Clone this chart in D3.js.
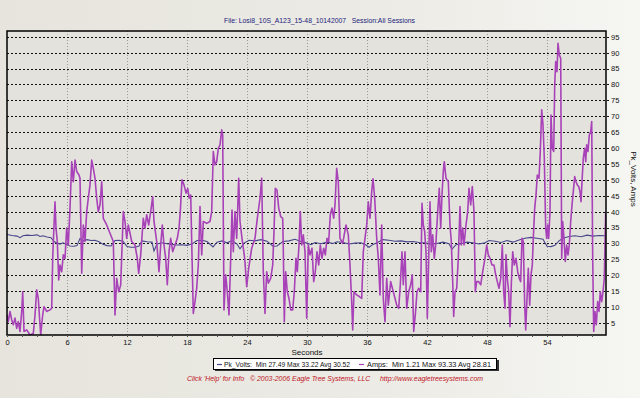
<!DOCTYPE html>
<html>
<head>
<meta charset="utf-8">
<script src="https://cdn.jsdelivr.net/npm/d3@7"></script>
<style>
  body{ margin: 0; padding: 0; overflow: hidden; }
  svg{ display: block; font-family: 'Liberation Sans', Arial, sans-serif; }
</style>
</head>
<body>
<div id="chart"></div>
<script>

const amps_t = [
  0, 0.13, 0.3, 0.47, 0.63, 0.8, 0.97, 1.13, 1.3, 1.47, 1.57, 1.7, 1.97, 2.3, 2.63, 2.8, 2.97, 3.13, 3.37, 3.57,
  3.7, 3.97, 4.3, 4.47, 4.57, 4.7, 4.8, 4.9, 5.03, 5.17, 5.3, 5.47, 5.63, 5.8, 5.97, 6.13, 6.3, 6.47, 6.63, 6.8,
  6.97, 7.2, 7.3, 7.47, 7.63, 7.8, 7.97, 8.13, 8.3, 8.47, 8.63, 8.8, 8.97, 9.13, 9.3, 9.47, 9.63, 9.97, 10.3, 10.63,
  10.8, 10.97, 11.17, 11.37, 11.63, 11.8, 11.97, 12.13, 12.47, 12.8, 13.03, 13.17, 13.37, 13.63, 13.8, 13.97, 14.17, 14.37, 14.57, 14.7,
  14.97, 15.2, 15.37, 15.53, 15.7, 15.87, 16.03, 16.2, 16.37, 16.57, 16.8, 17.03, 17.2, 17.33, 17.5, 17.7, 17.9, 18.07, 18.23, 18.37,
  18.5, 18.63, 18.8, 18.97, 19.13, 19.3, 19.47, 19.63, 19.97, 20.3, 20.47, 20.63, 20.8, 20.97, 21.13, 21.3, 21.47, 21.57, 21.7, 21.87,
  22.03, 22.2, 22.37, 22.5, 22.63, 22.8, 22.97, 23.17, 23.3, 23.5, 23.77, 23.97, 24.17, 24.47, 24.8, 25.03, 25.3, 25.47, 25.63, 25.8,
  25.97, 26.13, 26.37, 26.57, 26.7, 26.83, 27.0, 27.17, 27.37, 27.57, 27.63, 27.73, 27.87, 28.03, 28.2, 28.37, 28.57, 28.73, 28.9, 29.03,
  29.2, 29.33, 29.47, 29.63, 29.8, 29.97, 30.13, 30.3, 30.5, 30.67, 30.83, 31.0, 31.17, 31.33, 31.5, 31.67, 31.83, 32.0, 32.17, 32.33,
  32.5, 32.67, 32.8, 32.97, 33.13, 33.3, 33.57, 33.9, 34.13, 34.3, 34.47, 34.57, 34.7, 34.97, 35.23, 35.47, 35.63, 35.8, 35.97, 36.13,
  36.3, 36.47, 36.6, 36.77, 36.97, 37.13, 37.3, 37.47, 37.63, 37.8, 37.97, 38.13, 38.37, 38.63, 38.97, 39.17, 39.33, 39.5, 39.63, 39.8,
  39.97, 40.17, 40.37, 40.53, 40.67, 40.83, 41.0, 41.17, 41.37, 41.5, 41.63, 41.77, 41.9, 42.03, 42.17, 42.3, 42.43, 42.57, 42.73, 42.9,
  43.07, 43.23, 43.37, 43.5, 43.63, 43.73, 43.9, 44.13, 44.3, 44.43, 44.57, 44.67, 44.8, 44.97, 45.13, 45.3, 45.43, 45.57, 45.7, 45.9,
  46.07, 46.2, 46.37, 46.53, 46.7, 46.83, 46.97, 47.17, 47.37, 47.57, 47.8, 47.97, 48.13, 48.3, 48.5, 48.7, 48.87, 49.03, 49.2, 49.37,
  49.53, 49.67, 49.8, 49.9, 50.03, 50.17, 50.3, 50.43, 50.57, 50.73, 50.9, 51.07, 51.23, 51.37, 51.5, 51.63, 51.77, 51.87, 52.0, 52.13,
  52.27, 52.4, 52.53, 52.63, 52.77, 52.9, 53.03, 53.2, 53.33, 53.47, 53.6, 53.73, 53.87, 53.97, 54.07, 54.17, 54.3, 54.4, 54.53, 54.67,
  54.77, 54.87, 55.0, 55.1, 55.23, 55.37, 55.47, 55.57, 55.7, 55.83, 55.97, 56.1, 56.23, 56.37, 56.5, 56.63, 56.77, 56.9, 57.03, 57.17,
  57.3, 57.4, 57.5, 57.63, 57.77, 57.87, 57.97, 58.1, 58.23, 58.37, 58.47, 58.57, 58.67, 58.8, 58.93, 59.07, 59.2, 59.33, 59.47, 59.6,
  59.73, 59.87
];
// Amps read at those seconds.
const amps_v = [
  7.5, 5.4, 8.6, 6, 4.4, 6.5, 3.3, 5.4, 2.3, 8.6, 14.8, 2.3, 2.8, 1.2, 1.7, 7.5, 15.4, 12.7, 1.2, 7.5,
  10.1, 8.6, 9.1, 9.6, 25.3, 35.8, 43.1, 34.8, 30.6, 18.5, 23.2, 21.1, 26.4, 25.3, 34.8, 29.5, 41.1, 55.7, 49.4, 56.2,
  52.6, 51.5, 50.5, 20.6, 35.8, 30.6, 40, 44.2, 48.4, 56.2, 53.6, 50.5, 44.2, 40, 42.1, 49.4, 37.9, 35.8, 33.2, 30.6,
  7.5, 19, 14.8, 16.9, 40, 36.9, 31.6, 35.8, 30.6, 29.5, 25.3, 20.6, 26.4, 37.9, 34.8, 39, 35.8, 40, 44.7, 36.9,
  30.6, 21.1, 29.5, 35.8, 29.5, 25.3, 17, 27.4, 31.6, 27.4, 29.5, 31.6, 34.8, 40, 50, 48.4, 45.8, 47.3, 44.2, 45.2,
  26.4, 8, 11.7, 15.9, 23.2, 41.6, 26.4, 36.9, 36.3, 36.9, 40, 58.9, 54.7, 55.7, 59.9, 61, 65.7, 64.1, 9.1, 20.1,
  14.8, 7.5, 25.3, 40.5, 27.4, 40, 31.6, 50.5, 36.9, 31.6, 25.3, 16.4, 22.2, 28.5, 31.6, 37.9, 44.2, 50.5, 21.1, 8,
  21.1, 17.5, 19, 23.2, 33.7, 47.3, 46.8, 41.1, 38.4, 37.9, 28.5, 5.4, 21.1, 14.8, 12.7, 9.1, 9.1, 14.8, 25.3, 21.1,
  29.5, 40, 29.5, 32.7, 27.4, 6.5, 29.5, 26.4, 28.5, 18, 21.1, 27.4, 23.2, 29.5, 25.3, 28.5, 26.4, 31.6, 30.6, 39,
  41.1, 37.9, 42.1, 53.6, 49.4, 31.6, 30, 35.8, 32.7, 23.2, 11.7, 2.8, 14.8, 13.8, 13.3, 12.7, 27.4, 31.6, 35.8, 43.1,
  37.9, 46.3, 50.3, 44.2, 31.6, 25.3, 13.8, 35.8, 12.7, 5.4, 19, 10.6, 18, 14.8, 10.6, 9.6, 17, 27.4, 17, 27.4,
  9.6, 14.8, 17, 20.1, 2.3, 7.5, 14.8, 15.9, 14.8, 42.6, 35.8, 33.7, 27.4, 6.5, 25.3, 43.1, 27.4, 32.7, 25.3, 30.6,
  40, 47.3, 34.8, 45.2, 52.6, 55.7, 50.5, 49.4, 35.8, 30.6, 18, 7, 14.8, 15.9, 25.3, 41.6, 29.5, 34.8, 29.5, 35.8,
  40, 47.3, 42.1, 47.9, 40, 14.8, 18, 18, 17, 21.1, 25.3, 29.5, 26.4, 25.3, 23.2, 23.2, 20.1, 18, 15.9, 19,
  29.5, 14.8, 9.6, 26.4, 19, 14.8, 3.8, 17, 27.4, 23.2, 25.3, 21.1, 19, 18, 31.6, 30.6, 10.6, 2.8, 12.7, 22.2,
  10.6, 20.1, 23.2, 31.6, 41.1, 45.2, 51.5, 50.5, 58.9, 72, 67.3, 56.8, 34.8, 31.6, 35.8, 31.6, 40, 70.4, 59.9, 58.9,
  79.8, 87.2, 84, 92.9, 89.3, 88.2, 25.3, 36.9, 31.6, 24.3, 29.5, 26.4, 29.5, 36.9, 42.1, 46.3, 51, 49.4, 48.4, 47.9,
  46.3, 43.1, 49.4, 56.8, 59.9, 55.7, 61, 58.9, 64.1, 65.1, 68.3, 25.3, 2.3, 8.6, 4.4, 11.7, 8.6, 14.8, 11.7, 14.8,
  19, 40
];

const volts_t = [
  0, 0.5, 1.0, 1.3, 1.6, 2.0, 2.5, 3.0, 3.3, 3.6, 4.0, 4.4, 4.7, 5.0, 5.3, 5.6, 6.0, 6.3, 6.7, 7.0,
  7.3, 7.6, 8.0, 8.4, 8.8, 9.2, 9.6, 10.0, 10.4, 10.8, 11.2, 11.6, 12.0, 12.4, 12.8, 13.2, 13.5, 14.0, 14.5, 14.7,
  15.0, 15.5, 16.0, 16.5, 17.0, 17.5, 18.0, 18.5, 19.0, 19.5, 20.0, 20.6, 21.0, 21.5, 22.0, 22.5, 23.0, 23.3, 23.7, 24.2,
  24.8, 25.4, 26.0, 26.6, 27.0, 27.6, 28.2, 28.8, 29.4, 30.0, 30.4, 30.8, 31.4, 32.0, 32.6, 33.0, 33.6, 34.2, 34.8, 35.4,
  35.9, 36.2, 36.6, 37.0, 37.6, 38.2, 38.8, 39.4, 40.0, 40.6, 41.2, 41.8, 42.4, 43.0, 43.6, 44.2, 44.5, 44.9, 45.5, 46.0,
  46.6, 47.2, 47.8, 48.2, 48.8, 49.4, 50.0, 50.6, 51.2, 51.8, 52.4, 53.0, 53.6, 54.0, 54.4, 54.8, 55.2, 55.6, 56.2, 56.8,
  57.4, 58.0, 58.6, 59.2, 59.87
];
// Pk_Volts read at those seconds.
const volts_v = [
  32.8, 32.5, 32.3, 31.8, 32.4, 32.6, 32.5, 32.7, 32.2, 32.4, 32.0, 31.8, 30.6, 30.1, 29.8, 30.2, 29.6, 29.2, 29.1, 29.3,
  31.5, 30.8, 31.2, 30.9, 31.0, 30.5, 29.7, 29.3, 29.2, 30.9, 31.0, 30.7, 29.0, 28.8, 28.8, 29.2, 30.8, 30.5, 30.4, 27.6,
  29.8, 30.2, 29.9, 29.7, 29.5, 29.6, 29.4, 29.8, 30.9, 31.0, 30.6, 28.9, 30.4, 30.8, 30.2, 30.9, 29.8, 28.3, 30.1, 31.0,
  30.8, 31.2, 30.7, 29.1, 29.2, 30.6, 30.8, 31.3, 30.6, 30.1, 29.6, 30.3, 29.9, 30.4, 30.0, 30.5, 30.3, 29.8, 30.1, 30.2,
  29.5, 28.8, 29.7, 30.2, 31.2, 31.0, 30.7, 30.8, 30.5, 30.6, 30.3, 30.2, 29.8, 30.0, 30.4, 29.9, 28.2, 29.6, 30.0, 30.4,
  30.2, 29.8, 30.2, 30.9, 30.7, 30.3, 30.9, 30.4, 31.1, 31.6, 31.9, 31.6, 31.3, 29.1, 29.0, 29.4, 30.8, 31.6, 32.2, 32.4,
  32.1, 32.6, 32.3, 32.5, 32.4
];

const x_ticks = [ 0, 6, 12, 18, 24, 30, 36, 42, 48, 54 ];
const y_ticks = [ 5, 10, 15, 20, 25, 30, 35, 40, 45, 50, 55, 60, 65, 70, 75, 80, 85, 90, 95 ];

const title_text = 'File: Losi8_10S_A123_15-48_10142007   Session:All Sessions';
const x_title = 'Seconds';
const y_title = 'Pk_Volts, Amps';
const legend_volts = 'Pk_Volts:  Min 27.49 Max 33.22 Avg 30.52';
const legend_amps = 'Amps:  Min 1.21 Max 93.33 Avg 28.81';
const footer_text = 'Click \'Help\' for Info   \u00a9 2003-2006 Eagle Tree Systems, LLC     http://www.eagletreesystems.com';

// Layout settings.
const settings = {
  width: 640,
  height: 398,
  plot: { left: 7, right: 606, top: 31, bottom: 335 },
  volts_color: '#46468c',
  amps_color: '#a842b8'
};

const svg = d3.select( '#chart' )
  .append( 'svg' )
    .attr( 'width', settings.width )
    .attr( 'height', settings.height );

// Background gradient of the window.
const defs = svg.append( 'defs' );
const grad = defs.append( 'linearGradient' )
  .attr( 'id', 'bg' )
  .attr( 'x1', '0' ).attr( 'y1', '0' ).attr( 'x2', '1' ).attr( 'y2', '0' );
grad.append( 'stop' ).attr( 'offset', '0' ).attr( 'stop-color', '#e6e4dd' );
grad.append( 'stop' ).attr( 'offset', '0.6' ).attr( 'stop-color', '#ecebe5' );
grad.append( 'stop' ).attr( 'offset', '1' ).attr( 'stop-color', '#f6f6f3' );

defs.append( 'clipPath' )
  .attr( 'id', 'plotclip' )
  .append( 'rect' )
    .attr( 'x', settings.plot.left )
    .attr( 'y', settings.plot.top )
    .attr( 'width', settings.plot.right - settings.plot.left )
    .attr( 'height', settings.plot.bottom - settings.plot.top );

svg.append( 'rect' )
  .attr( 'width', settings.width )
  .attr( 'height', settings.height )
  .attr( 'fill', 'url(#bg)' );

// Plot area background.
svg.append( 'rect' )
  .attr( 'x', settings.plot.left )
  .attr( 'y', settings.plot.top )
  .attr( 'width', settings.plot.right - settings.plot.left )
  .attr( 'height', settings.plot.bottom - settings.plot.top )
  .attr( 'fill', '#e4e2dc' );

// Scales.
const x_scale = d3.scaleLinear()
  .domain( [ 0, 59.9 ] )
  .range( [ settings.plot.left, settings.plot.right ] );
const y_scale = d3.scaleLinear()
  .domain( [ 1.2, 96.8 ] )
  .range( [ settings.plot.bottom, settings.plot.top ] );

// Vertical grid, grey dots every 6 seconds.
svg.append( 'g' )
  .selectAll( 'line' )
  .data( x_ticks.filter( d => d > 0 ) )
  .enter()
  .append( 'line' )
    .attr( 'x1', d => x_scale( d ) + 0.5 )
    .attr( 'x2', d => x_scale( d ) + 0.5 )
    .attr( 'y1', settings.plot.top )
    .attr( 'y2', settings.plot.bottom )
    .attr( 'stroke', '#9a9a9a' )
    .attr( 'stroke-width', 1 )
    .attr( 'stroke-dasharray', '1,2' );

// Horizontal grid, black dashes every 5, running out to the right axis.
svg.append( 'g' )
  .selectAll( 'line' )
  .data( y_ticks )
  .enter()
  .append( 'line' )
    .attr( 'x1', settings.plot.left )
    .attr( 'x2', settings.plot.right + 4 )
    .attr( 'y1', d => Math.round( y_scale( d ) ) + 0.5 )
    .attr( 'y2', d => Math.round( y_scale( d ) ) + 0.5 )
    .attr( 'stroke', '#111' )
    .attr( 'stroke-width', 1 )
    .attr( 'stroke-dasharray', '2,2' );

// Series lines.
const line = d3.line()
  .x( d => x_scale( d[0] ) )
  .y( d => y_scale( d[1] ) );

const series = svg.append( 'g' ).attr( 'clip-path', 'url(#plotclip)' );
series.append( 'path' )
  .datum( d3.zip( volts_t, volts_v ) )
  .attr( 'd', line )
  .attr( 'fill', 'none' )
  .attr( 'stroke', settings.volts_color )
  .attr( 'stroke-width', 1.1 );
series.append( 'path' )
  .datum( d3.zip( amps_t, amps_v ) )
  .attr( 'd', line )
  .attr( 'fill', 'none' )
  .attr( 'stroke', settings.amps_color )
  .attr( 'stroke-width', 1.6 )
  .attr( 'stroke-linejoin', 'round' );

// Plot frame.
svg.append( 'rect' )
  .attr( 'x', settings.plot.left )
  .attr( 'y', settings.plot.top )
  .attr( 'width', settings.plot.right - settings.plot.left )
  .attr( 'height', settings.plot.bottom - settings.plot.top )
  .attr( 'fill', 'none' )
  .attr( 'stroke', '#000' )
  .attr( 'stroke-width', 1.5 );

// Bottom axis: labels plus small minor ticks.
const x_axis = svg.append( 'g' )
  .attr( 'transform', 'translate( 0, ' + settings.plot.bottom + ' )' )
  .call( d3.axisBottom( x_scale )
    .tickValues( d3.range( 0, 59, 1.5 ) )
    .tickSize( 2 )
    .tickFormat( d => x_ticks.includes( d ) ? d : '' ) );
x_axis.select( '.domain' ).remove();
x_axis.selectAll( 'line' ).attr( 'stroke', '#555' );
x_axis.selectAll( 'text' )
  .attr( 'font-size', 7.5 )
  .attr( 'font-family', "'Liberation Sans', Arial, sans-serif" )
  .attr( 'fill', '#111' )
  .attr( 'y', 5 );

// Right axis labels.
const y_axis = svg.append( 'g' )
  .attr( 'transform', 'translate( ' + ( settings.plot.right + 4 ) + ', 0 )' )
  .call( d3.axisRight( y_scale )
    .tickValues( y_ticks )
    .tickSize( 0 )
    .tickPadding( 1 ) );
y_axis.select( '.domain' ).remove();
y_axis.selectAll( 'text' )
  .attr( 'font-size', 7.5 )
  .attr( 'font-family', "'Liberation Sans', Arial, sans-serif" )
  .attr( 'fill', '#111' );

// Axis titles.
svg.append( 'text' )
  .attr( 'x', 307 )
  .attr( 'y', 355 )
  .attr( 'text-anchor', 'middle' )
  .attr( 'font-size', 8 )
  .attr( 'fill', '#111' )
  .text( x_title );

svg.append( 'g' )
  .attr( 'transform', 'translate( 631, 179 )' )
  .append( 'text' )
    .attr( 'transform', 'rotate( 90 )' )
    .attr( 'text-anchor', 'middle' )
    .attr( 'font-size', 8 )
    .attr( 'fill', '#111' )
    .text( y_title );

// Title.
svg.append( 'text' )
  .attr( 'x', 319.5 )
  .attr( 'y', 23 )
  .attr( 'text-anchor', 'middle' )
  .attr( 'font-size', 8 )
  .attr( 'fill', '#1a1a7a' )
  .attr( 'textLength', 191 )
  .attr( 'lengthAdjust', 'spacingAndGlyphs' )
  .style( 'white-space', 'pre' )
  .text( title_text );

// Legend box with shadow.
const legend = svg.append( 'g' ).attr( 'transform', 'translate( 213, 358 )' );
legend.append( 'rect' )
  .attr( 'x', 2 ).attr( 'y', 2 )
  .attr( 'width', 284 ).attr( 'height', 11 )
  .attr( 'fill', '#333' );
legend.append( 'rect' )
  .attr( 'x', 0.5 ).attr( 'y', 0.5 )
  .attr( 'width', 283 ).attr( 'height', 11 )
  .attr( 'fill', '#fff' )
  .attr( 'stroke', '#000' );
legend.append( 'line' )
  .attr( 'x1', 4 ).attr( 'x2', 9 ).attr( 'y1', 6.5 ).attr( 'y2', 6.5 )
  .attr( 'stroke', settings.volts_color ).attr( 'stroke-width', 1.2 );
legend.append( 'text' )
  .attr( 'x', 11 ).attr( 'y', 9 )
  .attr( 'font-size', 7.5 )
  .attr( 'fill', '#111' )
  .attr( 'textLength', 126 )
  .attr( 'lengthAdjust', 'spacingAndGlyphs' )
  .style( 'white-space', 'pre' )
  .text( legend_volts );
legend.append( 'line' )
  .attr( 'x1', 146 ).attr( 'x2', 151 ).attr( 'y1', 6.5 ).attr( 'y2', 6.5 )
  .attr( 'stroke', settings.amps_color ).attr( 'stroke-width', 1.2 );
legend.append( 'text' )
  .attr( 'x', 154 ).attr( 'y', 9 )
  .attr( 'font-size', 7.5 )
  .attr( 'fill', '#111' )
  .attr( 'textLength', 124 )
  .attr( 'lengthAdjust', 'spacingAndGlyphs' )
  .style( 'white-space', 'pre' )
  .text( legend_amps );

// Footer.
svg.append( 'text' )
  .attr( 'x', 187 )
  .attr( 'y', 381 )
  .attr( 'font-size', 7.5 )
  .attr( 'font-style', 'italic' )
  .attr( 'fill', '#c0141e' )
  .attr( 'textLength', 296 )
  .attr( 'lengthAdjust', 'spacingAndGlyphs' )
  .style( 'white-space', 'pre' )
  .text( footer_text );

</script>
</body>
</html>
